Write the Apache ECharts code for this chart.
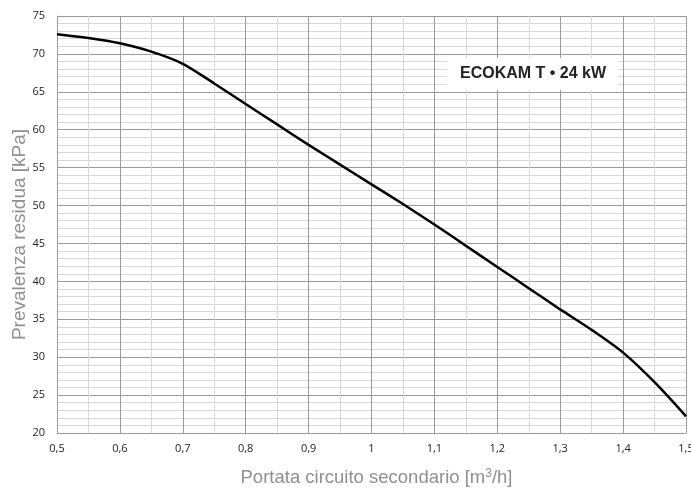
<!DOCTYPE html>
<html>
<head>
<meta charset="utf-8">
<script src="https://cdn.jsdelivr.net/npm/echarts@6/dist/echarts.min.js"></script>
<style>html,body{margin:0;padding:0;background:#fff}#c{width:691px;height:490px}</style>
</head>
<body>
<div id="c"></div>
<script>
const flowValues = [0.5, 0.55, 0.6, 0.65, 0.7, 0.75, 0.8, 0.85, 0.9, 0.95, 1.0, 1.05, 1.1, 1.15, 1.2, 1.25, 1.3, 1.35, 1.4, 1.45, 1.5];
const headValues = [72.6, 72.1, 71.4, 70.3, 68.7, 66.1, 63.4, 60.7, 58.0, 55.4, 52.8, 50.2, 47.5, 44.7, 41.9, 39.1, 36.3, 33.6, 30.6, 26.7, 22.2];
const chartLabel = 'ECOKAM T • 24 kW';
const xTitle = 'Portata circuito secondario [m{sup|3}/h]';
const yTitle = 'Prevalenza residua [kPa]';

const titleFont = "'Liberation Sans Narrow', 'Liberation Sans', sans-serif";
const chart = echarts.init(document.getElementById('c'));
chart.setOption({
  animation: false,
  backgroundColor: '#fff',
  title: {
    text: chartLabel,
    left: 447, top: 58,
    padding: [8, 12, 8, 13],
    backgroundColor: '#fff',
    textStyle: { fontFamily: 'Liberation Sans', fontWeight: 'bold', fontSize: 16, color: '#222' }
  },
  grid: { left: 57, right: 5, top: 16, bottom: 57, outerBoundsMode: 'none', containLabel: false },
  xAxis: {
    type: 'value', min: 0.5, max: 1.5, interval: 0.1,
    name: xTitle, nameLocation: 'middle', nameGap: 35, nameMoveOverlap: false,
    nameTextStyle: { fontFamily: titleFont, fontSize: 18.5, color: '#8f8f8f', padding: [0, 0, 0, 10],
      rich: { sup: { fontFamily: titleFont, fontSize: 12, color: '#8f8f8f', verticalAlign: 'top', padding: [0,0,7,0] } } },
    axisLine: { lineStyle: { color: '#999', width: 1 } },
    axisTick: { show: false },
    axisLabel: { margin: 10, fontFamily: 'Open Sans', fontSize: 11, color: '#222',
      formatter: v => String(Math.round(v * 10) / 10).replace('.', ',') },
    splitLine: { lineStyle: { color: '#9a9a9a', width: 1 } },
    minorTick: { show: false, splitNumber: 2 },
    minorSplitLine: { show: true, lineStyle: { color: '#d8d8d8', width: 1 } }
  },
  yAxis: {
    type: 'value', min: 20, max: 75, interval: 5,
    name: yTitle, nameLocation: 'middle', nameGap: 28, nameMoveOverlap: false,
    nameTextStyle: { fontFamily: titleFont, fontSize: 19, color: '#8f8f8f', padding: [0, 20, 0, 0] },
    axisLine: { show: true, lineStyle: { color: '#999', width: 1 } },
    axisTick: { show: false },
    axisLabel: { margin: 12, fontFamily: 'Open Sans', fontSize: 11, color: '#222' },
    splitLine: { lineStyle: { color: '#9a9a9a', width: 1 } },
    minorTick: { show: false, splitNumber: 5 },
    minorSplitLine: { show: true, lineStyle: { color: '#d8d8d8', width: 1 } }
  },
  series: [{
    type: 'line',
    data: flowValues.map((x, i) => [x, headValues[i]]),
    smooth: 0.3,
    showSymbol: false,
    lineStyle: { color: '#000', width: 2.5 },
    z: 5
  }]
});
</script>
</body>
</html>
